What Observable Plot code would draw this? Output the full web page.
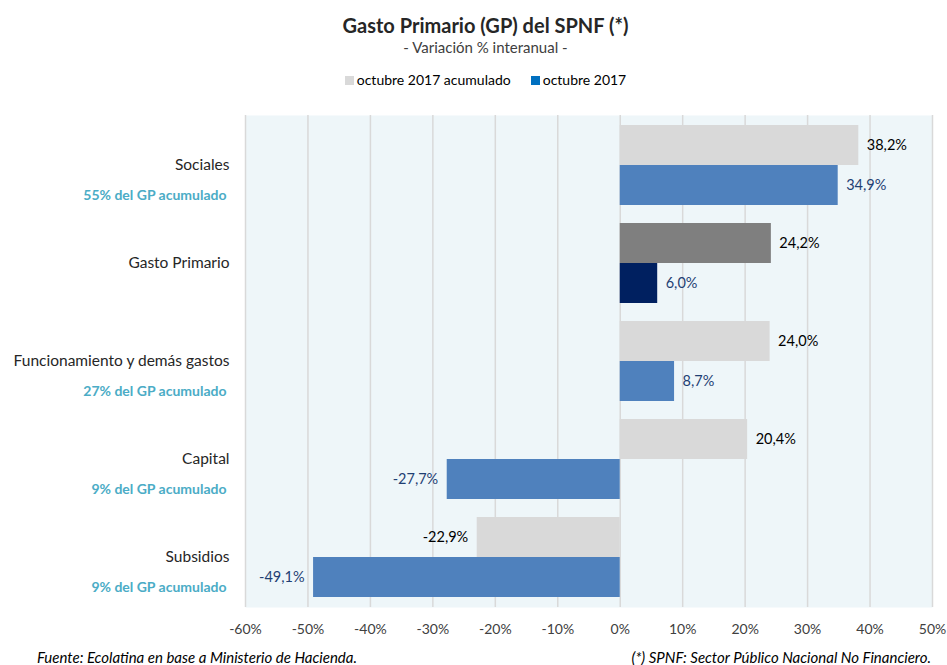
<!DOCTYPE html>
<html>
<head>
<meta charset="utf-8">
<script src="https://cdn.jsdelivr.net/npm/d3@7"></script>
<script src="https://cdn.jsdelivr.net/npm/@observablehq/plot@0.6"></script>
<style>
  body { margin: 0; background: #fff; font-family: Lato, "Open Sans", sans-serif; }
  #wrap { position: relative; width: 947px; height: 665px; overflow: hidden; }
  .abs { position: absolute; left: 24px; width: 923px; text-align: center; white-space: nowrap; }
  #title { top: 13px; line-height: 24px; font-size: 20px; font-weight: bold; color: #262626; }
  #subtitle { top: 38px; line-height: 18px; font-size: 15px; color: #404040; }
  #legend { top: 71px; line-height: 18px; font-size: 14px; color: #000; }
  #legend span.sw { display: inline-block; width: 9px; height: 9px; margin-right: 3px; vertical-align: 0px; }
  #legend span.item { margin: 0 10px; }
  #chart { position: absolute; top: 100px; left: 0; }
  .foot { position: absolute; top: 648px; line-height: 18px; font-size: 15px; font-style: italic; color: #000; white-space: nowrap; }
</style>
</head>
<body>
<div id="wrap">
  <div id="title" class="abs"></div>
  <div id="subtitle" class="abs"></div>
  <div id="legend" class="abs"></div>
  <div id="chart"></div>
  <div id="footL" class="foot" style="left:37px;"></div>
  <div id="footR" class="foot" style="right:16px;"></div>
</div>
<script>
const titleText = "Gasto Primario (GP) del SPNF (*)";
const subtitleText = "- Variación % interanual -";
const seriesNames = ["octubre 2017 acumulado", "octubre 2017"];
const categories = ["Sociales", "Gasto Primario", "Funcionamiento y demás gastos", "Capital", "Subsidios"];
const sublabels = ["55% del GP acumulado", "", "27% del GP acumulado", "9% del GP acumulado", "9% del GP acumulado"];
const acumulado = [38.2, 24.2, 24.0, 20.4, -22.9];
const mensual = [34.9, 6.0, 8.7, -27.7, -49.1];
const xTicks = [-60, -50, -40, -30, -20, -10, 0, 10, 20, 30, 40, 50];
const footLeft = "Fuente: Ecolatina en base a Ministerio de Hacienda.";
const footRight = "(*) SPNF: Sector Público Nacional No Financiero.";

document.getElementById("title").textContent = titleText;
document.getElementById("subtitle").textContent = subtitleText;
document.getElementById("footL").textContent = footLeft;
document.getElementById("footR").textContent = footRight;
const legendColors = ["#D9D9D9", "#0070C0"];
document.getElementById("legend").innerHTML = seriesNames.map((s, i) =>
  `<span class="item"><span class="sw" style="background:${legendColors[i]}"></span>${s}</span>`).join("");

const highlight = "Gasto Primario";
const rows = categories.map((c, i) => ({cat: c, sub: sublabels[i], acum: acumulado[i], mens: mensual[i]}));
const fmt = v => v.toFixed(1).replace(".", ",") + "%";

const width = 947, height = 547, mTop = 15, mBottom = 40;
const pIn = 0.187, pOut = 0.0935;
const step = (height - mTop - mBottom) / categories.length;
const bw = step * (1 - pIn);
const half = bw / 2;

const acumFill = d => d.cat === highlight ? "#7F7F7F" : "#D9D9D9";
const mensFill = d => d.cat === highlight ? "#002060" : "#4F81BD";

const chart = Plot.plot({
  width, height,
  marginLeft: 245, marginRight: 15, marginTop: mTop, marginBottom: mBottom,
  style: {fontFamily: "Lato, 'Open Sans', sans-serif", fontSize: "14px", color: "#404040", background: "transparent"},
  x: {domain: [-60, 50], ticks: xTicks, tickFormat: d => d + "%", tickSize: 0, tickPadding: 17, label: null},
  y: {domain: categories, paddingInner: pIn, paddingOuter: pOut, axis: null},
  marks: [
    Plot.frame({fill: "#EEF6F9", stroke: "none"}),
    Plot.ruleX(xTicks, {stroke: "#D9D9D9", strokeWidth: 1.5}),
    Plot.barX(rows, {x: "acum", y: "cat", fill: acumFill, insetBottom: half}),
    Plot.barX(rows, {x: "mens", y: "cat", fill: mensFill, insetTop: half}),
    Plot.text(rows.filter(d => d.acum >= 0), {x: "acum", y: "cat", text: d => fmt(d.acum), dy: -half / 2, dx: 8, textAnchor: "start", fill: "#000", fontSize: 14.5}),
    Plot.text(rows.filter(d => d.acum < 0), {x: "acum", y: "cat", text: d => fmt(d.acum), dy: -half / 2, dx: -9, textAnchor: "end", fill: "#000", fontSize: 14.5}),
    Plot.text(rows.filter(d => d.mens >= 0), {x: "mens", y: "cat", text: d => fmt(d.mens), dy: half / 2, dx: 8, textAnchor: "start", fill: "#1F3F73", fontSize: 14.5}),
    Plot.text(rows.filter(d => d.mens < 0), {x: "mens", y: "cat", text: d => fmt(d.mens), dy: half / 2, dx: -9, textAnchor: "end", fill: "#1F3F73", fontSize: 14.5}),
    Plot.text(rows, {y: "cat", text: "cat", frameAnchor: "left", dx: -16, textAnchor: "end", fill: "#262626", fontSize: 15.5}),
    Plot.text(rows.filter(d => d.sub), {y: "cat", text: "sub", frameAnchor: "left", dx: -19, dy: 30, textAnchor: "end", fill: "#4BACC6", fontSize: 14, fontWeight: "bold"})
  ]
});
document.getElementById("chart").appendChild(chart);
</script>
</body>
</html>
